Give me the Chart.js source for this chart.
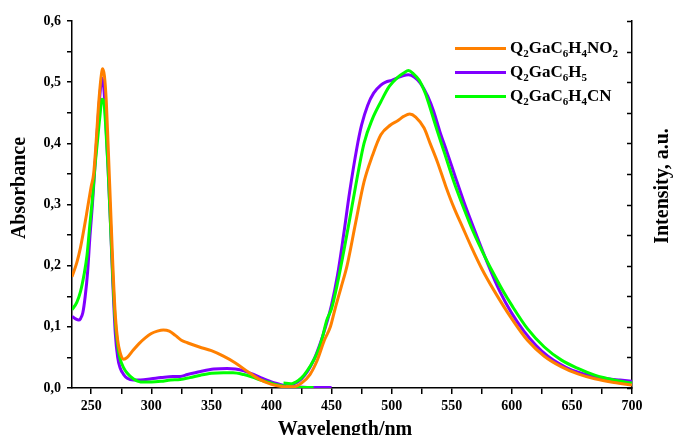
<!DOCTYPE html>
<html lang="en">
<head>
<meta charset="UTF-8">
<title>Absorbance / Intensity</title>
<script src="https://cdn.jsdelivr.net/npm/chart.js"></script>
<style>
    body { margin: 0; background: #fff; }
    #wrap { position: relative; width: 675px; height: 435px; }
    #legend {
        position: absolute; left: 455px; top: 36px;
        font-family: 'Liberation Serif', serif; font-weight: bold; font-size: 17px; color: #000;
    }
    #legend .row { display: flex; align-items: center; height: 24px; }
    #legend .swatch { width: 51px; height: 3px; margin-right: 4px; }
    #legend sub { font-size: 11px; vertical-align: -4px; line-height: 0; }
</style>
</head>
<body>
<div id="wrap">
    <canvas id="chart" width="675" height="435"></canvas>
    <div id="legend"></div>
</div>
<script>
// series names (digits become subscripts in the legend)
const names = ['Q2GaC6H4NO2', 'Q2GaC6H5', 'Q2GaC6H4CN'];
const colors = ['#ff8000', '#8000ff', '#00ff00'];

// absorbance, nm / value
const absNO2_nm = [234, 238, 241, 246, 250, 252, 254, 256, 258, 259.5, 261, 262.5, 264, 266, 268, 270, 272, 274, 277, 280, 285, 290, 295, 300, 305, 310, 315, 320, 325, 330, 340, 350, 360, 370, 380, 390, 400, 410, 420];
const absNO2 = [0.182, 0.205, 0.229, 0.283, 0.33, 0.35, 0.40, 0.46, 0.505, 0.522, 0.51, 0.47, 0.40, 0.30, 0.20, 0.12, 0.078, 0.058, 0.047, 0.05, 0.062, 0.073, 0.082, 0.089, 0.093, 0.095, 0.093, 0.086, 0.078, 0.074, 0.067, 0.061, 0.052, 0.041, 0.027, 0.014, 0.006, 0.002, 0.001];

const absH5_nm = [234, 237, 239.5, 241, 243, 245, 247, 249, 251, 253, 255, 257, 259, 260.5, 262, 264, 266, 268, 270, 272, 274, 277, 280, 285, 291, 300, 308, 318, 324, 330, 341, 352, 363, 370, 377, 384, 391, 400, 407, 412, 420, 430, 440, 450];
const absH5 = [0.117, 0.113, 0.111, 0.113, 0.123, 0.15, 0.19, 0.25, 0.30, 0.36, 0.42, 0.474, 0.507, 0.49, 0.44, 0.36, 0.27, 0.17, 0.09, 0.05, 0.033, 0.022, 0.016, 0.013, 0.013, 0.015, 0.017, 0.019, 0.019, 0.022, 0.027, 0.031, 0.032, 0.031, 0.028, 0.023, 0.017, 0.01, 0.006, 0.003, 0.002, 0.001, 0.001, 0.001];

const absCN_nm = [234, 238, 241, 244, 246.5, 249, 251, 253, 255, 257, 259, 260.5, 262, 264, 266, 268, 270, 272, 274, 277, 280, 285, 291, 300, 308, 316, 324, 332, 341, 350, 360, 368, 377, 384, 391, 398, 405, 412, 420, 435];
const absCN = [0.128, 0.14, 0.157, 0.185, 0.217, 0.27, 0.31, 0.36, 0.40, 0.44, 0.472, 0.468, 0.43, 0.36, 0.27, 0.18, 0.11, 0.07, 0.048, 0.033, 0.024, 0.015, 0.01, 0.01, 0.011, 0.013, 0.014, 0.017, 0.021, 0.024, 0.025, 0.025, 0.022, 0.018, 0.013, 0.009, 0.005, 0.002, 0.001, 0.001];

// emission (intensity), nm / value
const emNO2_nm = [412, 418, 425, 432, 438, 444, 449, 453, 458, 463, 470, 477, 484, 491, 499, 505, 510, 515, 520, 527, 532, 538, 545, 552, 559, 566, 575, 585, 600, 613, 627, 641, 655, 669, 685, 700];
const emNO2 = [0.002, 0.002, 0.008, 0.022, 0.045, 0.078, 0.10, 0.13, 0.165, 0.201, 0.27, 0.337, 0.38, 0.414, 0.43, 0.437, 0.444, 0.448, 0.443, 0.425, 0.40, 0.37, 0.33, 0.294, 0.263, 0.232, 0.195, 0.16, 0.113, 0.078, 0.052, 0.035, 0.023, 0.015, 0.009, 0.005];

const emH5_nm = [410, 415, 420, 425, 430, 435, 440, 445, 450, 455, 460, 465, 471, 475, 480, 485, 491, 495, 500, 505, 510, 514, 519, 524, 530, 535, 540, 546, 553, 560, 570, 580, 590, 600, 610, 620, 630, 640, 650, 660, 670, 680, 690, 700];
const emH5 = [0.004, 0.005, 0.008, 0.015, 0.027, 0.045, 0.07, 0.10, 0.136, 0.185, 0.25, 0.32, 0.392, 0.43, 0.462, 0.482, 0.495, 0.5, 0.503, 0.507, 0.511, 0.512, 0.508, 0.498, 0.477, 0.452, 0.42, 0.386, 0.345, 0.305, 0.253, 0.203, 0.158, 0.122, 0.093, 0.07, 0.052, 0.039, 0.029, 0.023, 0.018, 0.015, 0.013, 0.011];

const emCN_nm = [410, 416, 422, 427, 432, 438, 442, 446, 450, 455, 460, 465, 470, 477, 484, 491, 498, 505, 510, 514, 518, 523, 528, 532, 538, 544, 552, 560, 568, 576, 584, 592, 600, 613, 627, 641, 655, 669, 685, 700];
const emCN = [0.008, 0.007, 0.012, 0.021, 0.035, 0.057, 0.08, 0.111, 0.13, 0.172, 0.222, 0.275, 0.33, 0.40, 0.44, 0.468, 0.493, 0.508, 0.515, 0.519, 0.514, 0.503, 0.482, 0.458, 0.42, 0.384, 0.336, 0.294, 0.255, 0.221, 0.19, 0.161, 0.135, 0.097, 0.067, 0.046, 0.032, 0.021, 0.013, 0.008];

// axes
const xTickValues = [250, 275, 300, 325, 350, 375, 400, 425, 450, 475, 500, 525, 550, 575, 600, 625, 650, 675, 700];
const xLabels = ['250', '300', '350', '400', '450', '500', '550', '600', '650', '700'];
const yTickValues = [0, 0.05, 0.1, 0.15, 0.2, 0.25, 0.3, 0.35, 0.4, 0.45, 0.5, 0.55, 0.6];
const yLabels = ['0,0', '0,1', '0,2', '0,3', '0,4', '0,5', '0,6'];

const FONT = "'Liberation Serif', serif";

function pts(xs, ys) {
    return xs.map((x, i) => ({ x: x, y: ys[i] }));
}

function line(xs, ys, idx, order) {
    return {
        label: names[idx],
        data: pts(xs, ys),
        borderColor: colors[idx],
        backgroundColor: colors[idx],
        borderWidth: 3,
        pointRadius: 0,
        cubicInterpolationMode: 'monotone',
        fill: false,
        order: order
    };
}

// legend with subscripts
const legend = document.getElementById('legend');
names.forEach((n, i) => {
    const row = document.createElement('div');
    row.className = 'row';
    const sw = document.createElement('span');
    sw.className = 'swatch';
    sw.style.background = colors[i];
    const txt = document.createElement('span');
    txt.innerHTML = n.replace(/(\d)/g, '<sub>$1</sub>');
    row.appendChild(sw);
    row.appendChild(txt);
    legend.appendChild(row);
});

// axis titles + inward ticks on the right axis
const extras = {
    id: 'extras',
    afterDraw(chart) {
        const ctx = chart.ctx;
        const area = chart.chartArea;
        const y = chart.scales.y;
        ctx.save();
        ctx.strokeStyle = '#000';
        ctx.lineWidth = 1.5;
        y.ticks.forEach(t => {
            const py = Math.round(y.getPixelForValue(t.value)) + 0.5;
            ctx.beginPath();
            ctx.moveTo(area.right - 5, py);
            ctx.lineTo(area.right, py);
            ctx.stroke();
        });
        ctx.fillStyle = '#000';
        ctx.font = 'bold 20px ' + FONT;
        ctx.textAlign = 'center';
        ctx.textBaseline = 'middle';
        ctx.fillText('Wavelength/nm', 345, 430);
        ctx.translate(20, 188);
        ctx.rotate(-Math.PI / 2);
        ctx.fillText('Absorbance', 0, 0);
        ctx.restore();
        ctx.save();
        ctx.fillStyle = '#000';
        ctx.font = 'bold 20px ' + FONT;
        ctx.textAlign = 'center';
        ctx.textBaseline = 'middle';
        ctx.translate(663, 186);
        ctx.rotate(-Math.PI / 2);
        ctx.fillText('Intensity, a.u.', 0, 0);
        ctx.restore();
    }
};

new Chart(document.getElementById('chart'), {
    type: 'line',
    data: {
        datasets: [
            line(absNO2_nm, absNO2, 0, 1),
            line(emNO2_nm, emNO2, 0, 1),
            line(absCN_nm, absCN, 2, 2),
            line(emCN_nm, emCN, 2, 2),
            line(absH5_nm, absH5, 1, 3),
            line(emH5_nm, emH5, 1, 3)
        ]
    },
    options: {
        responsive: false,
        animation: false,
        layout: { padding: { top: 21, left: 0, right: 0, bottom: 0 } },
        plugins: { legend: { display: false }, tooltip: { enabled: false } },
        scales: {
            x: {
                type: 'linear',
                min: 234,
                max: 700,
                afterBuildTicks: s => { s.ticks = xTickValues.map(v => ({ value: v })); },
                afterFit: s => { s.height = 47; },
                ticks: {
                    autoSkip: false,
                    maxRotation: 0,
                    padding: 4,
                    color: '#000',
                    font: { family: FONT, size: 14, weight: 'bold' },
                    callback: v => (v % 50 === 0 ? xLabels[(v - 250) / 50] : '')
                },
                grid: { drawOnChartArea: false, drawTicks: true, tickLength: 6, color: '#000', lineWidth: 1.5 },
                border: { display: true, color: '#000', width: 1.5 }
            },
            y: {
                min: 0,
                max: 0.6,
                afterBuildTicks: s => { s.ticks = yTickValues.map(v => ({ value: v })); },
                afterFit: s => { s.width = 72; },
                ticks: {
                    autoSkip: false,
                    padding: 6,
                    color: '#000',
                    font: { family: FONT, size: 14, weight: 'bold' },
                    callback: (v, i) => (i % 2 === 0 ? yLabels[i / 2] : '')
                },
                grid: { drawOnChartArea: false, drawTicks: true, tickLength: 5, color: '#000', lineWidth: 1.5 },
                border: { display: true, color: '#000', width: 1.5 }
            },
            y2: {
                position: 'right',
                min: 0,
                max: 0.6,
                afterFit: s => { s.width = 43; },
                ticks: { display: false },
                grid: { display: false, drawOnChartArea: false },
                border: { display: true, color: '#000', width: 1.5 }
            }
        }
    },
    plugins: [extras]
});
</script>
</body>
</html>
